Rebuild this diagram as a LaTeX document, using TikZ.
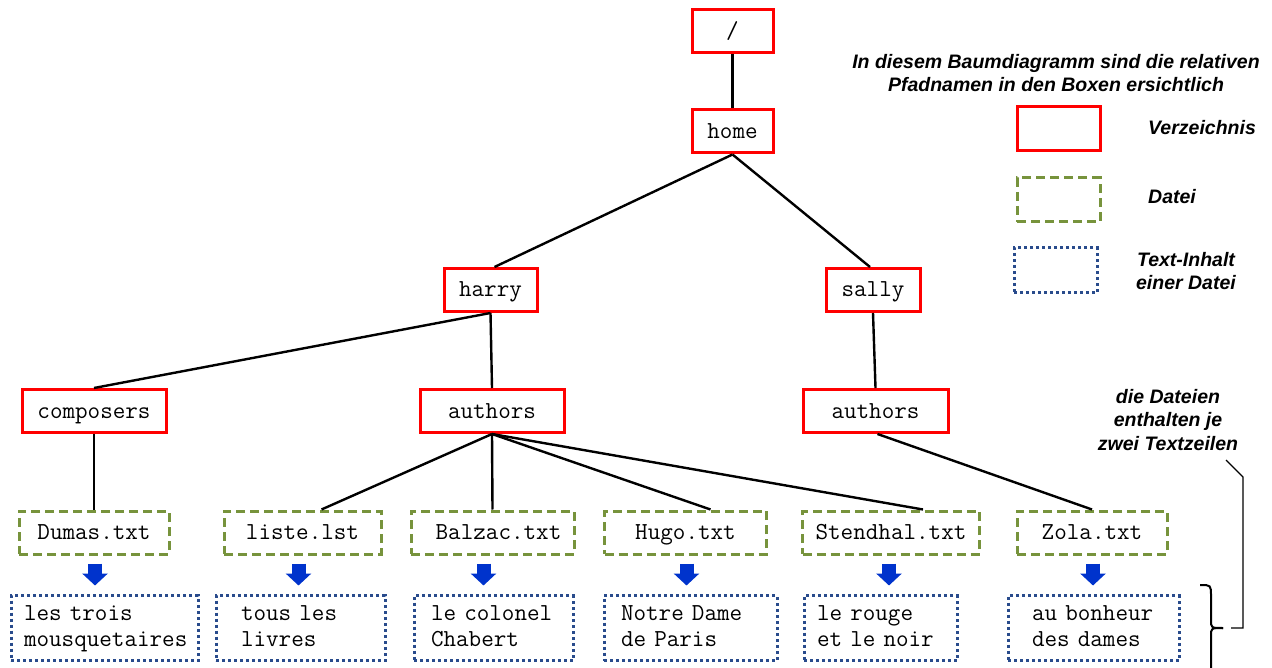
\documentclass[tikz,border=0pt]{standalone}
\usepackage{fontspec}
\setsansfont{Liberation Sans}
\usetikzlibrary{arrows.meta,calc}
\definecolor{dirred}{RGB}{255,0,0}
\definecolor{filegreen}{RGB}{119,147,60}
\definecolor{txtblue}{RGB}{41,75,140}
\definecolor{arrowblue}{RGB}{0,51,204}
\tikzset{
  base/.style={inner sep=0pt, font=\ttfamily\fontsize{24.4}{25.8}\selectfont},
  one/.style={text height=14pt, text depth=0pt},
  dirbox/.style={base, one, draw=dirred, line width=3pt, minimum height=43pt},
  filebox/.style={base, one, draw=filegreen, line width=3pt, dash pattern=on 9pt off 5pt, minimum height=43pt},
  txtbox/.style={base, draw=txtblue, line width=3pt, dash pattern=on 3pt off 3pt, minimum height=65pt, align=left, inner ysep=4pt},
  conn/.style={line width=2.4pt, black},
  blk/.style={line width=14pt, draw=arrowblue, -{Triangle[width=25pt,length=12pt]}},
  lbl/.style={inner sep=0pt, font=\sffamily\bfseries\itshape\fontsize{19.5}{23.5}\selectfont, align=center},
}
\begin{document}
\begin{tikzpicture}[x=1pt,y=-1pt]
\useasboundingbox (0,0) rectangle (1272,668);
% directories
\node[dirbox, minimum width=81pt] (root) at (732.5,31.5) {/};
\node[dirbox, minimum width=81pt] (home) at (732.5,131.5) {home};
\node[dirbox, minimum width=93pt] (harry) at (490.5,290) {harry};
\node[dirbox, minimum width=94pt] (sally) at (873,290) {sally};
\node[dirbox, minimum width=144pt] (comp) at (94,411) {composers};
\node[dirbox, minimum width=144pt] (authH) at (492,411) {authors};
\node[dirbox, minimum width=145pt] (authS) at (875.5,411) {authors};
% files
\node[filebox, minimum width=150pt] (f1) at (94,532.5) {Dumas.txt};
\node[filebox, minimum width=157pt] (f2) at (302.5,532.5) {liste.lst};
\node[filebox, minimum width=163pt] (f3) at (492.5,532.5) {\hspace*{12pt}Balzac.txt};
\node[filebox, minimum width=162pt] (f4) at (685.5,532.5) {Hugo.txt};
\node[filebox, minimum width=177pt] (f5) at (891,532.5) {Stendhal.txt};
\node[filebox, minimum width=150pt] (f6) at (1092,532.5) {Zola.txt};
% text contents
\node[txtbox, text width=161pt, inner xsep=13pt] (t1) at (104.5,628) {les trois\strut\\mousquetaires\strut};
\node[txtbox, text width=119pt, inner xsep=25pt] (t2) at (300.5,628) {tous les\strut\\livres\strut};
\node[txtbox, text width=125pt, inner xsep=17pt] (t3) at (493.5,628) {le colonel\strut\\Chabert\strut};
\node[txtbox, text width=139pt, inner xsep=17pt] (t4) at (690.5,628) {Notre Dame\strut\\de Paris\strut};
\node[txtbox, text width=127pt, inner xsep=13pt] (t5) at (880.5,628) {le rouge\strut\\et le noir\strut};
\node[txtbox, text width=123pt, inner xsep=24pt] (t6) at (1093.5,628) {au bonheur\strut\\des dames\strut};
% connectors
\draw[conn] (root.south) -- (home.north);
\draw[conn] (home.south) -- ($(harry.north)+(4,0)$);
\draw[conn] (home.south) -- ($(sally.north)+(-3,0)$);
\draw[conn] (harry.south) -- (comp.north);
\draw[conn] (harry.south) -- (authH.north);
\draw[conn] (sally.south) -- (authS.north);
\draw[conn] (comp.south) -- (f1.north);
\draw[conn] (authH.south) -- ($(f2.north)+(19,0)$);
\draw[conn] (authH.south) -- (f3.north);
\draw[conn] (authH.south) -- ($(f4.north)+(25,0)$);
\draw[conn] (authH.south) -- ($(f5.north)+(32,0)$);
\draw[conn] ($(authS.south)+(2,0)$) -- (f6.north);
% block arrows
\draw[blk] ($(f1.south)+(1,8)$) -- ($(f1.south)+(1,30)$);
\draw[blk] ($(f2.south)+(-4,8)$) -- ($(f2.south)+(-4,30)$);
\draw[blk] ($(f3.south)+(-9,8)$) -- ($(f3.south)+(-9,30)$);
\draw[blk] ($(f4.south)+(1,8)$) -- ($(f4.south)+(1,30)$);
\draw[blk] ($(f5.south)+(-2,8)$) -- ($(f5.south)+(-2,30)$);
\draw[blk] ($(f6.south)+(1,8)$) -- ($(f6.south)+(1,30)$);
% legend
\node[lbl] (title) at (1056,73) {In diesem Baumdiagramm sind die relativen\\Pfadnamen in den Boxen ersichtlich};
\node[dirbox, minimum width=83pt, minimum height=44pt] (lr) at (1058.5,129) {};
\node[filebox, minimum width=83pt, minimum height=44pt] (lg) at (1058.5,200) {};
\node[txtbox, minimum width=83pt, minimum height=45pt, inner sep=0pt] (lb) at (1055.5,270.5) {};
\node[lbl, anchor=west] (lrt) at (1148,128) {Verzeichnis};
\node[lbl, anchor=west] (lgt) at (1148,197) {Datei};
\node[lbl] (lbt) at (1186,271) {Text-Inhalt\\einer Datei};
\node[lbl] (note) at (1168,420) {die Dateien\\enthalten je\\zwei Textzeilen};
% brace
\coordinate (btip) at (1223,628);
\draw[line width=2pt] (1200,585) .. controls (1211,585) .. (1211,596) -- (1211,620) .. controls (1211,628) .. (btip);
\draw[line width=2pt] (btip) .. controls (1211,628) .. (1211,636) -- (1211,672);
% callout
\coordinate (cstart) at (1231,628);
\coordinate (cend) at (1226,460);
\draw[line width=1.2pt] (cstart) -- (1243,628) -- (1243,477) -- (cend);
\end{tikzpicture}
\end{document}
